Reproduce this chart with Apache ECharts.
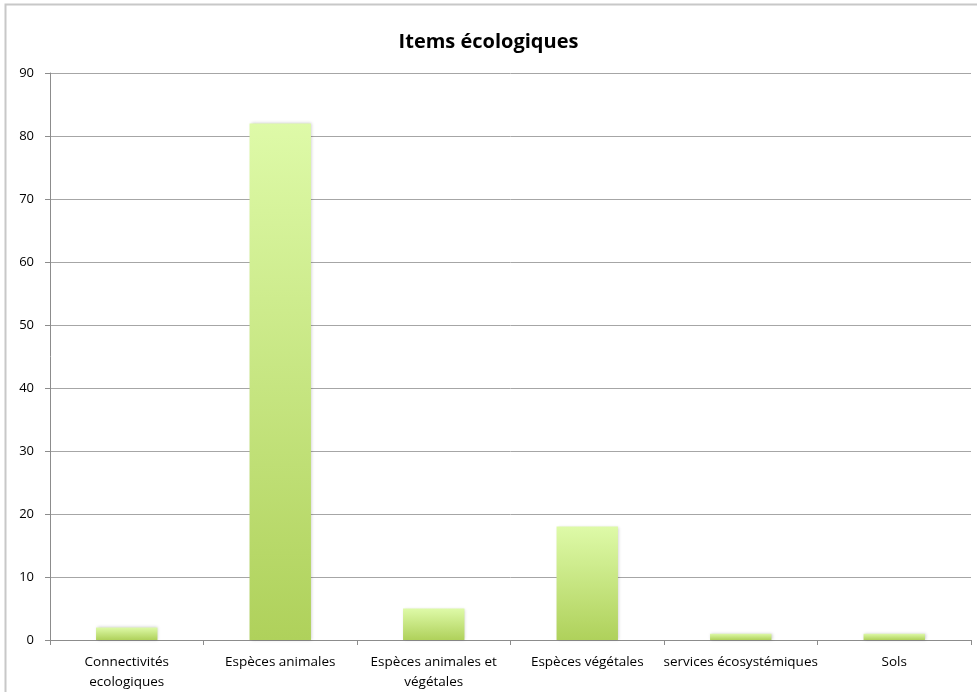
<!DOCTYPE html>
<html>
<head>
<meta charset="utf-8">
<script src="https://cdn.jsdelivr.net/npm/echarts@6/dist/echarts.min.js"></script>
<style>
  html, body { margin: 0; padding: 0; background: #fff; }
  #chart { width: 977px; height: 692px; }
</style>
</head>
<body>
<div id="chart"></div>
<script>
const categories = ['Connectivités\necologiques', 'Espèces animales', 'Espèces animales et\nvégétales', 'Espèces végétales', 'services écosystémiques', 'Sols'];
const values = [2, 82, 5, 18, 1, 1];
const yTicks = { min: 0, max: 90, interval: 10 };

const chart = echarts.init(document.getElementById('chart'));
const font = '"Open Sans", "DejaVu Sans", sans-serif';

chart.setOption({
    animation: false,
    textStyle: { fontFamily: font },
    graphic: [{
        type: 'rect',
        shape: { x: 5.5, y: 4.5, width: 980, height: 700 },
        style: { fill: 'none', stroke: '#c8c8c8', lineWidth: 2 },
        silent: true
    }],
    title: {
        text: 'Items écologiques',
        left: 'center',
        top: 27,
        textStyle: { fontFamily: font, fontSize: 20, fontWeight: 'bold', color: '#000' }
    },
    grid: { left: 50, right: 6, top: 73, bottom: 52 },
    xAxis: {
        type: 'category',
        data: categories,
        axisLine: { lineStyle: { color: '#8c8c8c', width: 1 } },
        axisTick: { show: true, length: 5, lineStyle: { color: '#8c8c8c' } },
        axisLabel: { color: '#000', fontSize: 13.5, margin: 12, lineHeight: 20, interval: 0 }
    },
    yAxis: {
        type: 'value',
        min: yTicks.min,
        max: yTicks.max,
        interval: yTicks.interval,
        axisLine: { show: true, lineStyle: { color: '#8c8c8c', width: 1 } },
        axisTick: { show: true, length: 5, lineStyle: { color: '#8c8c8c' } },
        axisLabel: { color: '#000', fontSize: 13, margin: 16 },
        splitLine: { lineStyle: { color: '#a6a6a6', width: 1 } }
    },
    series: [{
        type: 'bar',
        data: values,
        barWidth: '40%',
        itemStyle: {
            color: new echarts.graphic.LinearGradient(0, 0, 0, 1, [
                { offset: 0, color: '#defaa8' },
                { offset: 1, color: '#afd15b' }
            ]),
            shadowColor: 'rgba(0,0,0,0.2)',
            shadowBlur: 3,
            shadowOffsetX: 1,
            shadowOffsetY: 0
        }
    }]
});
</script>
</body>
</html>
